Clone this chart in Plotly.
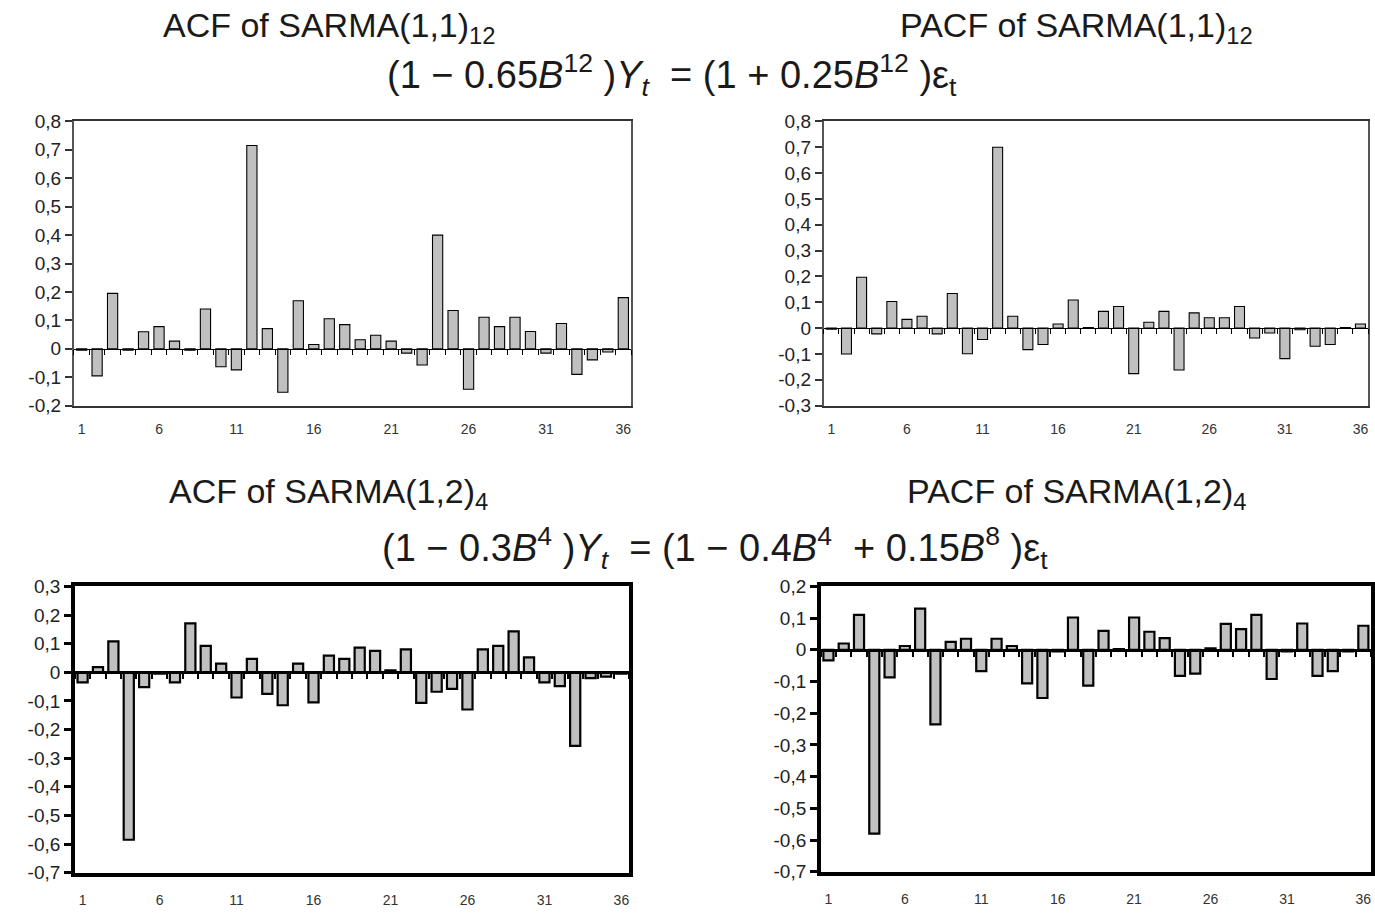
import plotly.graph_objects as go

W, H = 1375, 913

lags = list(range(1, 37))

acf_11_12 = [-0.005, -0.095, 0.195, -0.005, 0.06, 0.078, 0.027, -0.005, 0.14, -0.063,
             -0.074, 0.715, 0.071, -0.153, 0.169, 0.015, 0.106, 0.085, 0.032, 0.048,
             0.027, -0.015, -0.057, 0.40, 0.135, -0.142, 0.111, 0.078, 0.111, 0.061,
             -0.015, 0.089, -0.09, -0.039, -0.011, 0.18]
pacf_11_12 = [-0.004, -0.1, 0.197, -0.022, 0.103, 0.034, 0.046, -0.022, 0.134, -0.099,
              -0.044, 0.70, 0.046, -0.083, -0.063, 0.016, 0.109, 0.002, 0.065, 0.084,
              -0.176, 0.023, 0.065, -0.162, 0.059, 0.04, 0.04, 0.084, -0.038, -0.019,
              -0.118, -0.006, -0.07, -0.063, 0.002, 0.016]
acf_12_4 = [-0.035, 0.018, 0.108, -0.585, -0.052, -0.005, -0.035, 0.171, 0.092, 0.03,
            -0.088, 0.047, -0.075, -0.115, 0.03, -0.105, 0.058, 0.047, 0.086, 0.075,
            0.007, 0.08, -0.107, -0.068, -0.058, -0.13, 0.08, 0.092, 0.143, 0.052,
            -0.035, -0.048, -0.257, -0.02, -0.015, -0.005]
pacf_12_4 = [-0.033, 0.02, 0.11, -0.58, -0.087, 0.012, 0.13, -0.235, 0.025, 0.035,
             -0.067, 0.035, 0.012, -0.106, -0.152, -0.005, 0.102, -0.113, 0.06, 0.002,
             0.102, 0.057, 0.037, -0.082, -0.075, 0.005, 0.082, 0.065, 0.11, -0.092,
             -0.005, 0.083, -0.082, -0.067, -0.005, 0.076]

x_tickvals = [1, 6, 11, 16, 21, 26, 31, 36]
x_ticktext = ["1", "6", "11", "16", "21", "26", "31", "36"]

y1_vals = [0.8, 0.7, 0.6, 0.5, 0.4, 0.3, 0.2, 0.1, 0, -0.1, -0.2]
y1_text = ["0,8", "0,7", "0,6", "0,5", "0,4", "0,3", "0,2", "0,1", "0", "-0,1", "-0,2"]
y2_vals = [0.8, 0.7, 0.6, 0.5, 0.4, 0.3, 0.2, 0.1, 0, -0.1, -0.2, -0.3]
y2_text = ["0,8", "0,7", "0,6", "0,5", "0,4", "0,3", "0,2", "0,1", "0", "-0,1", "-0,2", "-0,3"]
y3_vals = [0.3, 0.2, 0.1, 0, -0.1, -0.2, -0.3, -0.4, -0.5, -0.6, -0.7]
y3_text = ["0,3", "0,2", "0,1", "0", "-0,1", "-0,2", "-0,3", "-0,4", "-0,5", "-0,6", "-0,7"]
y4_vals = [0.2, 0.1, 0, -0.1, -0.2, -0.3, -0.4, -0.5, -0.6, -0.7]
y4_text = ["0,2", "0,1", "0", "-0,1", "-0,2", "-0,3", "-0,4", "-0,5", "-0,6", "-0,7"]

FONT = "Liberation Sans, Arial, sans-serif"

# panels: (series, x px range, y px range, y range, ticks, thick?)
panels = [
    (acf_11_12, (74, 632), (114, 405), (-0.2, 0.8), y1_vals, y1_text, False),
    (pacf_11_12, (825, 1370), (114, 405), (-0.3, 0.8), y2_vals, y2_text, False),
    (acf_12_4, (75, 630), (590, 883), (-0.7, 0.3), y3_vals, y3_text, True),
    (pacf_12_4, (822, 1373), (590, 882), (-0.7, 0.2), y4_vals, y4_text, True),
]

fig = go.Figure()
layout = dict(
    width=W, height=H, margin=dict(l=0, r=0, t=0, b=0),
    paper_bgcolor="white", plot_bgcolor="white", showlegend=False,
    bargap=0.34, font=dict(family=FONT, color="#222"),
)

boundary_ticks = [k + 0.5 for k in range(0, 37)]

for i, (vals, (px0, px1), (py0, py1), (ymin, ymax), yv, yt, thick) in enumerate(panels):
    n = i + 1
    xa = "x" if n == 1 else f"x{n}"
    ya = "y" if n == 1 else f"y{n}"
    xdom = [px0 / W, px1 / W]
    ydom = [1 - py1 / H, 1 - py0 / H]
    frame_w = 3.5 if thick else 1.5
    frame_c = "#000" if thick else "#333"
    bar_lw = 2.2 if thick else 1.1
    fig.add_trace(go.Bar(
        x=lags, y=vals, xaxis=xa, yaxis=ya,
        marker=dict(color="#c0c0c0", line=dict(color="#000", width=bar_lw)),
    ))
    layout["xaxis" if n == 1 else f"xaxis{n}"] = dict(
        domain=xdom, anchor=ya, range=[0.5, 36.5],
        tickvals=x_tickvals, ticktext=x_ticktext, ticks="",
        ticklabelstandoff=12 if thick else 10,
        tickfont=dict(size=14, color="#333", family=FONT),
        showgrid=False, zeroline=False,
        showline=True, linecolor=frame_c, linewidth=frame_w, mirror=True,
    )
    layout["yaxis" if n == 1 else f"yaxis{n}"] = dict(
        domain=ydom, anchor=xa, range=[ymin, ymax],
        tickvals=yv, ticktext=yt, ticks="outside", ticklen=7,
        tickwidth=2.5 if thick else 1.5, tickcolor=frame_c,
        tickfont=dict(size=19, color="#222", family=FONT),
        showgrid=False, zeroline=False,
        showline=True, linecolor="#000" if thick else "#555",
        linewidth=frame_w if thick else 2, mirror=True,
    )
    # zero line axis with category-boundary tick marks
    zn = n + 4
    zpos = ydom[0] + (0 - ymin) / (ymax - ymin) * (ydom[1] - ydom[0])
    fig.add_trace(go.Scatter(x=[None], y=[None], xaxis=f"x{zn}", yaxis=ya,
                             mode="markers", hoverinfo="skip"))
    layout[f"xaxis{zn}"] = dict(
        overlaying=xa, anchor="free", position=zpos, range=[0.5, 36.5],
        showline=True, linecolor="#000", linewidth=3 if thick else 1.4,
        ticks="outside", tickvals=boundary_ticks, ticklen=5,
        tickwidth=2 if thick else 1, tickcolor="#000",
        showticklabels=False, showgrid=False, zeroline=False,
    )

def ann(text, cx, cy, size):
    return dict(text=text, x=cx / W, y=1 - cy / H, xref="paper", yref="paper",
                showarrow=False, xanchor="center", yanchor="middle",
                font=dict(size=size, family=FONT, color="#1a1a1a"))

layout["annotations"] = [
    ann("ACF of SARMA(1,1)<sub>12</sub>", 330, 18, 34),
    ann("PACF of SARMA(1,1)<sub>12</sub>", 1078, 18, 34),
    ann("(1&nbsp;−&nbsp;0.65<i>B</i><sup>12</sup>&nbsp;)<i>Y<sub>t</sub></i>&nbsp;&nbsp;=&nbsp;(1&nbsp;+&nbsp;0.25<i>B</i><sup>12</sup>&nbsp;)ε<sub>t</sub>",
        673, 67, 38),
    ann("ACF of SARMA(1,2)<sub>4</sub>", 329, 495, 34),
    ann("PACF of SARMA(1,2)<sub>4</sub>", 1078, 495, 34),
    ann("(1&nbsp;−&nbsp;0.3<i>B</i><sup>4</sup>&nbsp;)<i>Y<sub>t</sub></i>&nbsp;&nbsp;=&nbsp;(1&nbsp;−&nbsp;0.4<i>B</i><sup>4</sup>&nbsp;&nbsp;+&nbsp;0.15<i>B</i><sup>8</sup>&nbsp;)ε<sub>t</sub>",
        716, 551, 38),
]

fig.update_layout(**layout)
fig.write_html("out.html")
